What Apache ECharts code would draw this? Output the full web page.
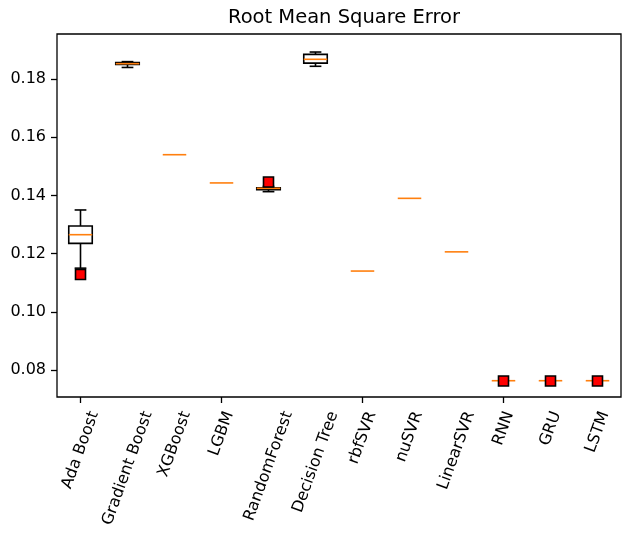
<!DOCTYPE html>
<html>
<head>
<meta charset="utf-8">
<title>Root Mean Square Error</title>
<script src="https://cdn.jsdelivr.net/npm/echarts@6/dist/echarts.min.js"></script>
<style>
  html, body { margin: 0; padding: 0; background: #ffffff; }
  #chart { width: 626px; height: 539px; }
</style>
</head>
<body>
<div id="chart"></div>
<script>
// Model names along the x axis
const categories = ['Ada Boost', 'Gradient Boost', 'XGBoost', 'LGBM', 'RandomForest',
  'Decision Tree', 'rbfSVR', 'nuSVR', 'LinearSVR', 'RNN', 'GRU', 'LSTM'];

// Five-number summaries of RMSE per model
const whiskerLow  = [0.1150, 0.1840, 0.1540, 0.1443, 0.1413, 0.1844, 0.1140, 0.1390, 0.1206, 0.0763, 0.0763, 0.0763];
const q1          = [0.1235, 0.1850, 0.1540, 0.1443, 0.1420, 0.1855, 0.1140, 0.1390, 0.1206, 0.0763, 0.0763, 0.0763];
const median      = [0.1265, 0.1853, 0.1540, 0.1443, 0.14245, 0.1868, 0.1140, 0.1390, 0.1206, 0.0763, 0.0763, 0.0763];
const q3          = [0.1295, 0.1857, 0.1540, 0.1443, 0.1426, 0.1885, 0.1140, 0.1390, 0.1206, 0.0763, 0.0763, 0.0763];
const whiskerHigh = [0.1350, 0.1860, 0.1540, 0.1443, 0.1431, 0.1893, 0.1140, 0.1390, 0.1206, 0.0763, 0.0763, 0.0763];

// Outliers
const flierCategory = ['Ada Boost', 'RandomForest', 'RNN', 'GRU', 'LSTM'];
const flierValue    = [0.1128, 0.1446, 0.0762, 0.0762, 0.0762];

// Y axis range and tick labels
const yMin = 0.0707;
const yMax = 0.1955;
const yTicks = [0.08, 0.10, 0.12, 0.14, 0.16, 0.18];

const FONT = '"DejaVu Sans", sans-serif';
const TICK_FONT_SIZE = 16;
const BLACK = '#000000';
const ORANGE = '#ff7f0e';
const LW = 1.6;

const boxData = categories.map((c, i) => [i, whiskerLow[i], q1[i], median[i], q3[i], whiskerHigh[i]]);
const flierData = flierCategory.map((c, i) => [c, flierValue[i]]);
const labelData = categories.map((c, i) => [i, yMin]);

function seg(x1, y1, x2, y2, color) {
  return { type: 'line', shape: { x1, y1, x2, y2 }, style: { stroke: color, lineWidth: LW, fill: null } };
}

// Box, whiskers, caps and median for one model; zero-height parts collapse under the median
function renderBox(params, api) {
  const i = api.value(0);
  const lo = api.coord([i, api.value(1)]);
  const b1 = api.coord([i, api.value(2)]);
  const md = api.coord([i, api.value(3)]);
  const b3 = api.coord([i, api.value(4)]);
  const hi = api.coord([i, api.value(5)]);
  const band = api.size([1, 0])[0];
  const x = md[0];
  const bh = band * 0.25;
  const ch = band * 0.125;
  const children = [];
  if (Math.abs(lo[1] - b1[1]) > 0.5) {
    children.push(seg(x, b1[1], x, lo[1], BLACK));
    children.push(seg(x - ch, lo[1], x + ch, lo[1], BLACK));
  }
  if (Math.abs(hi[1] - b3[1]) > 0.5) {
    children.push(seg(x, b3[1], x, hi[1], BLACK));
    children.push(seg(x - ch, hi[1], x + ch, hi[1], BLACK));
  }
  if (b1[1] - b3[1] > 0.5) {
    children.push({ type: 'rect', shape: { x: x - bh, y: b3[1], width: 2 * bh, height: b1[1] - b3[1] },
      style: { fill: null, stroke: BLACK, lineWidth: LW } });
  }
  children.push(seg(x - bh, md[1], x + bh, md[1], ORANGE));
  return { type: 'group', children: children };
}

// Rotated tick labels, centred under each tick like a 70° rotated label box
const measureCtx = document.createElement('canvas').getContext('2d');
measureCtx.font = TICK_FONT_SIZE + 'px ' + FONT;
const ANGLE = 70 * Math.PI / 180;
function renderLabel(params, api) {
  const i = api.value(0);
  const p = api.coord([i, api.value(1)]);
  const text = categories[params.dataIndex];
  const L = measureCtx.measureText(text).width;
  const h = TICK_FONT_SIZE * 1.1;
  const H = L * Math.sin(ANGLE) + h * Math.cos(ANGLE);
  return {
    type: 'text',
    x: p[0],
    y: p[1] + 12 + H / 2,
    rotation: ANGLE,
    style: {
      text: text,
      fontSize: TICK_FONT_SIZE,
      fontFamily: FONT,
      fill: BLACK,
      align: 'center',
      verticalAlign: 'middle'
    }
  };
}

const chart = echarts.init(document.getElementById('chart'), null, { renderer: 'canvas' });
chart.setOption({
  animation: false,
  backgroundColor: '#ffffff',
  title: {
    text: 'Root Mean Square Error',
    left: 339,
    top: 3,
    textAlign: 'center',
    textStyle: { fontFamily: FONT, fontSize: 19.5, fontWeight: 'normal', color: BLACK }
  },
  grid: {
    left: 57, right: 5, top: 34, bottom: 142,
    show: true, borderColor: BLACK, borderWidth: 1.3, backgroundColor: 'transparent'
  },
  xAxis: {
    type: 'category',
    data: categories,
    boundaryGap: true,
    axisLine: { show: false },
    axisTick: { show: true, alignWithLabel: true, length: 6, lineStyle: { color: BLACK, width: 1.3 } },
    axisLabel: { show: false },
    splitLine: { show: false }
  },
  yAxis: {
    type: 'value',
    min: yMin,
    max: yMax,
    axisLine: { show: false },
    axisTick: { show: true, length: 6, customValues: yTicks, lineStyle: { color: BLACK, width: 1.3 } },
    axisLabel: {
      show: true,
      customValues: yTicks,
      margin: 11,
      fontFamily: FONT,
      fontSize: TICK_FONT_SIZE,
      color: BLACK,
      formatter: v => v.toFixed(2)
    },
    splitLine: { show: false }
  },
  series: [
    {
      type: 'custom',
      name: 'RMSE',
      renderItem: renderBox,
      data: boxData,
      encode: { x: 0, y: [1, 2, 3, 4, 5] },
      clip: false,
      z: 2
    },
    {
      type: 'scatter',
      name: 'Outliers',
      data: flierData,
      symbol: 'rect',
      symbolSize: 10,
      itemStyle: { color: '#ff0000', borderColor: BLACK, borderWidth: 1.6, opacity: 1 },
      z: 3
    },
    {
      type: 'custom',
      name: 'Model labels',
      renderItem: renderLabel,
      data: labelData,
      encode: { x: 0, y: 1 },
      clip: false,
      silent: true,
      z: 4
    }
  ]
});
</script>
</body>
</html>
